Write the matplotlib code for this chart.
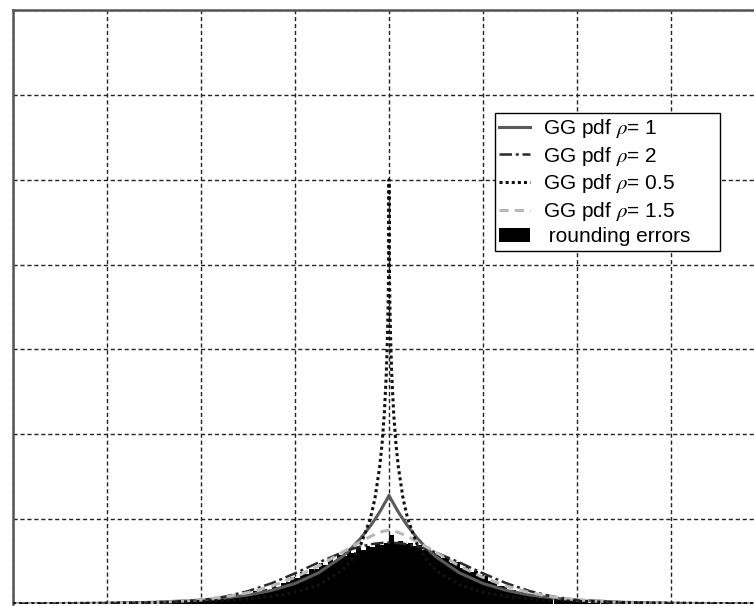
import matplotlib

matplotlib.use("Agg")
import matplotlib.pyplot as plt
import numpy as np

plt.rcParams["font.family"] = ["Liberation Sans", "DejaVu Sans"]
plt.rcParams["mathtext.fontset"] = "stix"

# Histogram of rounding errors (bin heights, left to right)
hist_lo, hist_hi = -2.5, 2.5
hist_counts = [
    0.0005, 0.0012, 0.0008, 0.0016, 0.0014, 0.0021, 0.0019, 0.0028, 0.0025, 0.0036,
    0.0033, 0.0046, 0.0044, 0.0061, 0.0058, 0.0079, 0.0076, 0.0102, 0.0094, 0.0128,
    0.0121, 0.0152, 0.0139, 0.0175, 0.0168, 0.0212, 0.0205, 0.0251, 0.0262, 0.0318,
    0.0305, 0.0372, 0.0358, 0.0415, 0.0408, 0.0481, 0.0462, 0.0530, 0.0512, 0.0583,
    0.0561, 0.0632, 0.0605, 0.0664, 0.0641, 0.0689, 0.0668, 0.0702, 0.0695, 0.0722,
    0.0812, 0.0728, 0.0745, 0.0711, 0.0716, 0.0683, 0.0692, 0.0641, 0.0652, 0.0598,
    0.0601, 0.0538, 0.0552, 0.0483, 0.0497, 0.0428, 0.0436, 0.0381, 0.0392, 0.0338,
    0.0327, 0.0276, 0.0262, 0.0218, 0.0209, 0.0167, 0.0161, 0.0143, 0.0126, 0.0121,
    0.0097, 0.0094, 0.0072, 0.0074, 0.0056, 0.0058, 0.0043, 0.0046, 0.0031, 0.0034,
    0.0022, 0.0024, 0.0015, 0.0017, 0.0011, 0.0012, 0.0007, 0.0008, 0.0004, 0.0005,
]

# GG pdf curves, sampled more densely near zero where the peaks are sharp
curve_x = [
    -4.0, -3.5, -3.0, -2.5, -2.0, -1.75, -1.5, -1.25, -1.0, -0.75, -0.5, -0.4,
    -0.3, -0.2, -0.15, -0.1, -0.075, -0.05, -0.03, -0.02, -0.01, -0.005, 0.0,
    0.005, 0.01, 0.02, 0.03, 0.05, 0.075, 0.1, 0.15, 0.2, 0.3, 0.4, 0.5, 0.75,
    1.0, 1.25, 1.5, 1.75, 2.0, 2.5, 3.0, 3.5, 4.0,
]
gg_rho1 = [
    0.0002, 0.0004, 0.0009, 0.0020, 0.0046, 0.0069, 0.0105, 0.0160, 0.0242, 0.0367,
    0.0556, 0.0657, 0.0776, 0.0917, 0.0997, 0.1083, 0.1130, 0.1181, 0.1218, 0.1238,
    0.1259, 0.1269, 0.1280, 0.1269, 0.1259, 0.1238, 0.1218, 0.1181, 0.1130, 0.1083,
    0.0997, 0.0917, 0.0776, 0.0657, 0.0556, 0.0367, 0.0242, 0.0160, 0.0105, 0.0069,
    0.0046, 0.0020, 0.0009, 0.0004, 0.0002,
]
gg_rho2 = [
    0.0000, 0.0000, 0.0001, 0.0009, 0.0045, 0.0086, 0.0151, 0.0244, 0.0361, 0.0489,
    0.0607, 0.0646, 0.0678, 0.0702, 0.0711, 0.0717, 0.0719, 0.0721, 0.0722, 0.0722,
    0.0722, 0.0722, 0.0722, 0.0722, 0.0722, 0.0722, 0.0722, 0.0721, 0.0719, 0.0717,
    0.0711, 0.0702, 0.0678, 0.0646, 0.0607, 0.0489, 0.0361, 0.0244, 0.0151, 0.0086,
    0.0045, 0.0009, 0.0001, 0.0000, 0.0000,
]
gg_rho05 = [
    0.0004, 0.0006, 0.0010, 0.0017, 0.0031, 0.0043, 0.0061, 0.0090, 0.0138, 0.0223,
    0.0394, 0.0516, 0.0700, 0.1000, 0.1240, 0.1610, 0.1870, 0.2240, 0.2680, 0.3010,
    0.3490, 0.3880, 0.5000, 0.3880, 0.3490, 0.3010, 0.2680, 0.2240, 0.1870, 0.1610,
    0.1240, 0.1000, 0.0700, 0.0516, 0.0394, 0.0223, 0.0138, 0.0090, 0.0061, 0.0043,
    0.0031, 0.0017, 0.0010, 0.0006, 0.0004,
]
gg_rho15 = [
    0.0000, 0.0001, 0.0004, 0.0015, 0.0049, 0.0082, 0.0134, 0.0209, 0.0314, 0.0448,
    0.0607, 0.0672, 0.0736, 0.0794, 0.0820, 0.0842, 0.0852, 0.0860, 0.0865, 0.0867,
    0.0869, 0.0870, 0.0870, 0.0870, 0.0869, 0.0867, 0.0865, 0.0860, 0.0852, 0.0842,
    0.0820, 0.0794, 0.0736, 0.0672, 0.0607, 0.0448, 0.0314, 0.0209, 0.0134, 0.0082,
    0.0049, 0.0015, 0.0004, 0.0001, 0.0000,
]


def main() -> None:
    fig = plt.figure(figsize=(7.54, 6.06), dpi=100)
    ax = fig.add_axes([13 / 754, 2 / 606, 752 / 754, 594 / 606])

    n_bins = len(hist_counts)
    width = (hist_hi - hist_lo) / n_bins
    centers = np.linspace(hist_lo + width / 2, hist_hi - width / 2, n_bins)
    bars = ax.bar(centers, hist_counts, width=width, color="black", linewidth=0,
                  zorder=2)

    l1, = ax.plot(curve_x, gg_rho1, "-", color="#5a5a5a", lw=2.2, zorder=3)
    l2, = ax.plot(curve_x, gg_rho2, linestyle=(0, (5, 1.5, 1.2, 1.5)),
                  color="#2a2a2a", lw=1.8, zorder=3)
    l3, = ax.plot(curve_x, gg_rho05, linestyle=(0, (1, 1)), color="#111111",
                  lw=2.2, zorder=4)
    l4, = ax.plot(curve_x, gg_rho15, linestyle=(0, (3, 2)), color="#b8b8b8",
                  lw=2.2, zorder=3)

    ax.set_xlim(-4, 4)
    ax.set_ylim(0, 0.7)
    ax.set_xticks(np.arange(-4, 4.01, 1))
    ax.set_yticks(np.arange(0, 0.71, 0.1))
    ax.tick_params(length=0, labelbottom=False, labelleft=False)
    ax.grid(True, linestyle=(0, (3, 2)), color="#222222", lw=1.0)
    ax.set_axisbelow(True)

    for side in ("bottom", "right"):
        ax.spines[side].set_visible(False)
    for side in ("left", "top"):
        ax.spines[side].set_color("#555555")
        ax.spines[side].set_linewidth(1.8)

    # legend box stretched to a fixed width, entries stay left-aligned
    leg = ax.legend(
        [l1, l2, l3, l4, bars],
        [r"GG pdf $\rho$= 1", r"GG pdf $\rho$= 2", r"GG pdf $\rho$= 0.5",
         r"GG pdf $\rho$= 1.5", " rounding errors"],
        loc="upper left",
        mode="expand",
        bbox_to_anchor=(495 / 754, 1 - 247 / 606, 225 / 754, 134 / 606),
        bbox_transform=fig.transFigure,
        borderaxespad=0,
        fontsize=15,
        frameon=True,
        fancybox=False,
        framealpha=1,
        edgecolor="black",
        handlelength=1.5,
        handletextpad=0.6,
        labelspacing=0.22,
        borderpad=0.2,
    )
    leg.get_frame().set_linewidth(1.0)

    fig.savefig("out.png", dpi=100)
    plt.close(fig)


if __name__ == "__main__":
    main()
